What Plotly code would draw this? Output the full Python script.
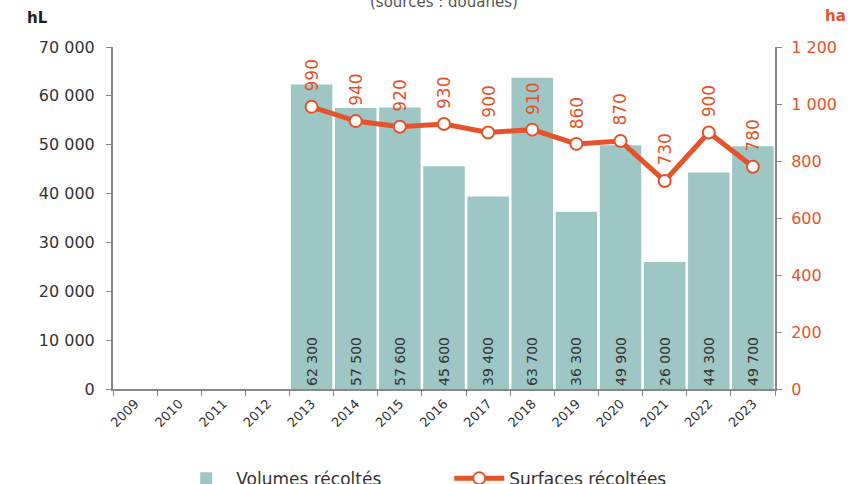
import plotly.graph_objects as go

years = [str(y) for y in range(2009, 2024)]
volumes = [None, None, None, None, 62300, 57500, 57600, 45600, 39400, 63700, 36300, 49900, 26000, 44300, 49700]
surfaces = [None, None, None, None, 990, 940, 920, 930, 900, 910, 860, 870, 730, 900, 780]

BAR = "#9dc6c4"
ORANGE = "#e5532b"
FONT = "DejaVu Sans"

def fmt(v):
    return f"{v:,}".replace(",", " ")

fig = go.Figure()
fig.add_trace(go.Bar(
    x=years, y=volumes, name="Volumes récoltés",
    marker=dict(color=BAR, line=dict(width=0)),
    text=[fmt(v) if v is not None else "" for v in volumes],
    textposition="inside", insidetextanchor="start", textangle=-90,
    textfont=dict(family=FONT, size=14, color="#333333"),
    hoverinfo="skip",
))
fig.add_trace(go.Scatter(
    x=years, y=surfaces, name="Surfaces récoltées", yaxis="y2",
    mode="lines+markers",
    line=dict(color=ORANGE, width=5),
    marker=dict(symbol="circle", size=12, color="white", line=dict(color=ORANGE, width=2)),
    connectgaps=False,
))

for i, s in enumerate(surfaces):
    if s is None:
        continue
    fig.add_annotation(x=i, y=s, xref="x", yref="y2", text=str(s),
                       textangle=-90, showarrow=False, yanchor="bottom", yshift=13,
                       font=dict(family=FONT, size=17, color=ORANGE))

fig.add_annotation(x=-0.133, y=1.085, xref="paper", yref="paper", text="<b>hL</b>",
                   showarrow=False, xanchor="left", yanchor="middle",
                   font=dict(family=FONT, size=15, color="#222222"))
fig.add_annotation(x=1.072, y=1.09, xref="paper", yref="paper", text="<b>ha</b>",
                   showarrow=False, xanchor="left", yanchor="middle",
                   font=dict(family=FONT, size=15, color=ORANGE))
fig.add_annotation(x=0.5, y=1.133, xref="paper", yref="paper", text="(sources : douanes)",
                   showarrow=False, xanchor="center", yanchor="middle",
                   font=dict(family=FONT, size=15, color="#555555"))

axis_line = "#888888"
fig.update_layout(
    width=848, height=484,
    margin=dict(l=113, r=73, t=47, b=95, autoexpand=False),
    paper_bgcolor="white", plot_bgcolor="white",
    separators=", ",
    bargap=0.06,
    font=dict(family=FONT, color="#333333"),
    showlegend=True,
    legend=dict(orientation="h", x=0.0955, xanchor="left", y=-0.21, yanchor="top",
                font=dict(family=FONT, size=17, color="#333333"),
                entrywidth=208, itemwidth=50),
    xaxis=dict(type="category", range=[-0.5, 14.5], showgrid=False, showline=True,
               linecolor=axis_line, linewidth=2,
               ticks="outside", tickson="boundaries", ticklen=5, tickcolor=axis_line,
               tickangle=-45, tickfont=dict(family=FONT, size=13, color="#333333")),
    yaxis=dict(range=[0, 70000], dtick=10000, showgrid=False, showline=True, linecolor=axis_line,
               linewidth=2, ticks="outside", ticklen=5, tickcolor=axis_line, zeroline=False,
               ticklabelstandoff=8,
               tickformat=",d", tickfont=dict(family=FONT, size=16, color="#333333")),
    yaxis2=dict(range=[0, 1200], dtick=200, overlaying="y", side="right", showgrid=False,
                showline=True, linecolor=axis_line, linewidth=2, ticks="outside", ticklen=5,
                tickcolor=axis_line, zeroline=False, tickformat=",d", ticklabelstandoff=6,
                tickfont=dict(family=FONT, size=16, color=ORANGE)),
)

fig.write_html("out.html", config={"displayModeBar": False},
               post_script="document.body.style.margin='0';document.body.style.overflow='hidden';")
